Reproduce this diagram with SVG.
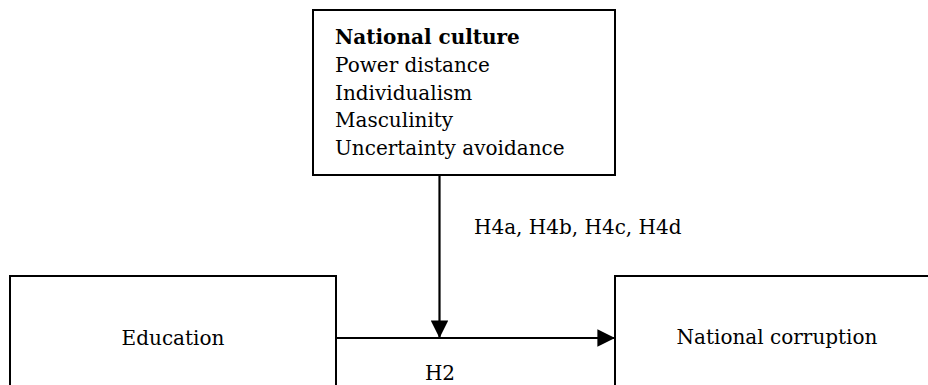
<svg xmlns="http://www.w3.org/2000/svg" width="928" height="385" viewBox="0 0 928 385">
<style>
.box{fill:#fff;stroke:#000;stroke-width:2}
.t{font-family:"DejaVu Serif","Liberation Serif",serif;font-size:20px;fill:#000}
.b{font-weight:bold}
.c{stroke:#000;stroke-width:2.2;fill:none}
</style>
<defs>
<marker id="ah" markerWidth="8" markerHeight="8" refX="8" refY="4" orient="auto" markerUnits="strokeWidth">
<path d="M0,0 L8,4 L0,8 Z" fill="#000"/>
</marker>
</defs>
<rect width="928" height="385" fill="#fff"/>
<g id="culture">
<rect class="box" x="313" y="10" width="302" height="165"/>
<text class="t b" x="335" y="44">National culture</text>
<text class="t" x="335" y="72">Power distance</text>
<text class="t" x="335" y="100">Individualism</text>
<text class="t" x="335" y="127">Masculinity</text>
<text class="t" x="335" y="155">Uncertainty avoidance</text>
</g>
<g id="education">
<rect class="box" x="10" y="276" width="326" height="130"/>
<text class="t" x="173" y="345" text-anchor="middle">Education</text>
</g>
<g id="corruption">
<rect class="box" x="615" y="276" width="330" height="130"/>
<text class="t" x="777" y="344" text-anchor="middle">National corruption</text>
</g>
<g id="connectors">
<line class="c" x1="336" y1="338" x2="615" y2="338" marker-end="url(#ah)"/>
<line class="c" x1="439.5" y1="175" x2="439.5" y2="338" marker-end="url(#ah)"/>
<text class="t" x="474" y="234">H4a, H4b, H4c, H4d</text>
<text class="t" x="440" y="380" text-anchor="middle">H2</text>
</g>
</svg>
